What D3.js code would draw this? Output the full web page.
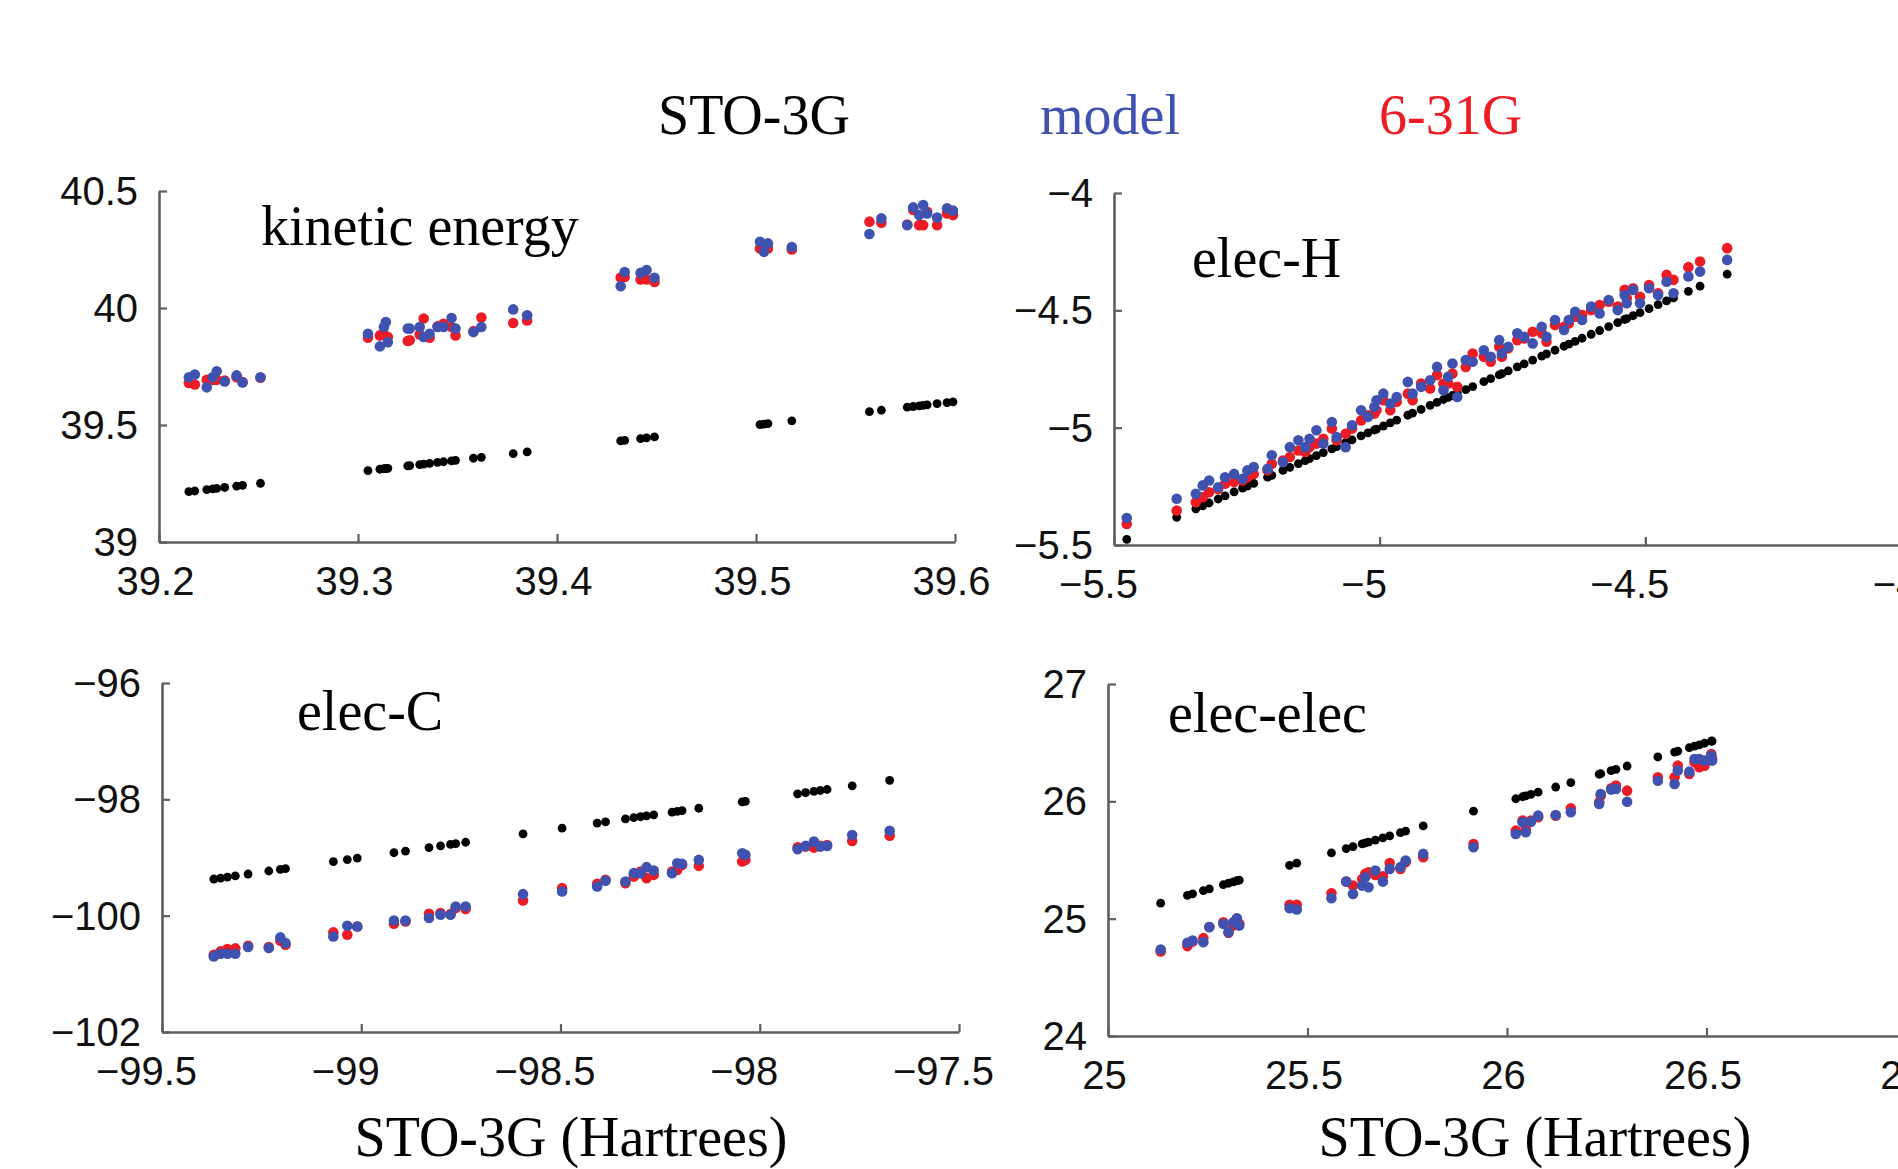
<!DOCTYPE html>
<html>
<head>
<meta charset="utf-8">
<script src="https://cdn.jsdelivr.net/npm/d3@7"></script>
<style>
  body { margin: 0; background: #fff; }
  .serif { font-family: "Liberation Serif", "Times New Roman", serif; }
  .tick text { font-family: "Liberation Sans", Arial, sans-serif; }
</style>
</head>
<body>
<svg id="fig"></svg>
<script>

// ---- kinetic energy ----
var keSTO = [39.215,39.218,39.224,39.227,39.229,39.233,39.239,39.242,39.251,
  39.305,39.311,39.313,39.314,39.315,39.325,39.326,39.331,39.333,39.336,39.340,39.343,39.347,39.349,39.358,39.362,39.378,39.385,
  39.432,39.434,39.442,39.445,39.449,
  39.502,39.504,39.506,39.518,
  39.557,39.563,39.576,39.579,39.582,39.584,39.586,39.591,39.596,39.599];
var keBlack = [39.215,39.218,39.224,39.227,39.229,39.233,39.239,39.242,39.251,
  39.305,39.311,39.313,39.314,39.315,39.325,39.326,39.331,39.333,39.336,39.340,39.343,39.347,39.349,39.358,39.362,39.378,39.385,
  39.432,39.434,39.442,39.445,39.449,
  39.502,39.504,39.506,39.518,
  39.557,39.563,39.576,39.579,39.582,39.584,39.586,39.591,39.596,39.599];
var keModel = [39.704,39.716,39.661,39.704,39.730,39.686,39.712,39.682,39.704,
  39.890,39.836,39.919,39.940,39.854,39.912,39.912,39.919,39.876,39.890,39.919,39.919,39.957,39.912,39.897,39.919,39.994,39.969,
  40.093,40.154,40.150,40.162,40.129,
  40.283,40.240,40.276,40.261,
  40.316,40.383,40.354,40.430,40.397,40.440,40.404,40.387,40.426,40.416];
var ke631 = [39.680,39.673,39.693,39.693,39.693,39.690,39.704,39.684,39.702,
  39.873,39.883,39.887,39.880,39.876,39.859,39.862,39.887,39.955,39.873,39.922,39.933,39.919,39.883,39.901,39.959,39.936,39.947,
  40.130,40.133,40.122,40.122,40.111,
  40.254,40.261,40.254,40.250,
  40.369,40.364,40.357,40.419,40.354,40.354,40.411,40.354,40.404,40.397];

// ---- elec-H ----
var ehSTO = [-5.476,-5.382,-5.346,-5.333,-5.321,-5.304,-5.291,-5.274,-5.258,-5.249,-5.237,-5.211,-5.203,-5.182,-5.169,-5.153,-5.140,-5.132,-5.119,-5.106,
  -5.090,-5.081,-5.064,-5.052,-5.035,-5.022,-5.010,-5.006,-4.993,-4.980,-4.968,-4.947,-4.938,-4.922,-4.905,-4.892,-4.880,-4.871,-4.863,-4.854,
  -4.838,-4.825,-4.804,-4.791,-4.775,-4.770,-4.758,-4.741,-4.728,-4.712,-4.695,-4.686,-4.670,-4.653,-4.644,-4.632,-4.619,-4.602,-4.586,-4.569,
  -4.552,-4.539,-4.535,-4.523,-4.510,-4.493,-4.476,-4.460,-4.447,-4.419,-4.397,-4.346];
var ehBlack = [-5.476,-5.382,-5.346,-5.333,-5.321,-5.304,-5.291,-5.274,-5.258,-5.249,-5.237,-5.211,-5.203,-5.182,-5.169,-5.153,-5.140,-5.132,-5.119,-5.106,
  -5.090,-5.081,-5.064,-5.052,-5.035,-5.022,-5.010,-5.006,-4.993,-4.980,-4.968,-4.947,-4.938,-4.922,-4.905,-4.892,-4.880,-4.871,-4.863,-4.854,
  -4.838,-4.825,-4.804,-4.791,-4.775,-4.770,-4.758,-4.741,-4.728,-4.712,-4.695,-4.686,-4.670,-4.653,-4.644,-4.632,-4.619,-4.602,-4.586,-4.569,
  -4.552,-4.539,-4.535,-4.523,-4.510,-4.493,-4.476,-4.460,-4.447,-4.419,-4.397,-4.346];
var ehModel = [-5.385,-5.303,-5.282,-5.246,-5.225,-5.254,-5.211,-5.197,-5.218,-5.182,-5.168,-5.175,-5.118,-5.147,-5.083,-5.054,-5.083,-5.047,-5.011,-5.068,
  -4.976,-5.040,-5.083,-4.990,-4.926,-4.954,-4.912,-4.883,-4.855,-4.897,-4.869,-4.805,-4.855,-4.826,-4.798,-4.741,-4.841,-4.783,-4.727,-4.869,
  -4.712,-4.719,-4.670,-4.698,-4.627,-4.684,-4.655,-4.598,-4.613,-4.641,-4.570,-4.613,-4.541,-4.584,-4.541,-4.506,-4.541,-4.484,-4.513,-4.456,
  -4.499,-4.435,-4.470,-4.413,-4.470,-4.406,-4.435,-4.378,-4.427,-4.356,-4.335,-4.285];
var eh631 = [-5.410,-5.353,-5.318,-5.296,-5.275,-5.261,-5.239,-5.232,-5.225,-5.211,-5.197,-5.182,-5.154,-5.140,-5.125,-5.097,-5.104,-5.083,-5.068,-5.047,
  -5.004,-5.054,-5.026,-5.004,-4.969,-4.947,-4.940,-4.926,-4.883,-4.926,-4.890,-4.855,-4.883,-4.812,-4.833,-4.776,-4.812,-4.812,-4.769,-4.826,
  -4.741,-4.684,-4.698,-4.719,-4.655,-4.698,-4.662,-4.627,-4.620,-4.591,-4.598,-4.634,-4.563,-4.570,-4.556,-4.527,-4.520,-4.499,-4.477,-4.463,
  -4.484,-4.413,-4.449,-4.406,-4.442,-4.392,-4.427,-4.349,-4.370,-4.316,-4.292,-4.235];

// ---- elec-C ----
var ecSTO = [-99.370,-99.353,-99.336,-99.316,-99.284,-99.232,-99.203,-99.190,-99.070,-99.035,-99.010,-98.918,-98.889,-98.830,-98.801,-98.776,-98.763,-98.738,-98.594,-98.496,
  -98.408,-98.387,-98.337,-98.316,-98.299,-98.284,-98.266,-98.220,-98.207,-98.195,-98.153,-98.044,-98.036,-97.905,-97.885,-97.864,-97.848,-97.831,-97.768,-97.674];
var ecBlack = [-99.370,-99.353,-99.336,-99.316,-99.284,-99.232,-99.203,-99.190,-99.070,-99.035,-99.010,-98.918,-98.889,-98.830,-98.801,-98.776,-98.763,-98.738,-98.594,-98.496,
  -98.408,-98.387,-98.337,-98.316,-98.299,-98.284,-98.266,-98.220,-98.207,-98.195,-98.153,-98.044,-98.036,-97.905,-97.885,-97.864,-97.848,-97.831,-97.768,-97.674];
var ecModel = [-100.700,-100.654,-100.654,-100.654,-100.539,-100.556,-100.374,-100.470,-100.357,-100.173,-100.185,-100.082,-100.082,-100.041,-99.985,-99.985,-99.842,-99.842,-99.630,-99.585,
  -99.499,-99.401,-99.413,-99.269,-99.269,-99.166,-99.225,-99.269,-99.098,-99.110,-99.041,-98.926,-98.955,-98.858,-98.801,-98.727,-98.813,-98.801,-98.612,-98.539];
var ec631 = [-100.671,-100.614,-100.573,-100.563,-100.516,-100.539,-100.431,-100.499,-100.288,-100.328,-100.185,-100.139,-100.099,-99.967,-99.955,-99.973,-99.870,-99.887,-99.739,-99.527,
  -99.453,-99.384,-99.441,-99.328,-99.242,-99.355,-99.298,-99.242,-99.213,-99.127,-99.144,-99.070,-99.041,-98.823,-98.813,-98.830,-98.801,-98.784,-98.715,-98.624];

// ---- elec-elec ----
var eeSTO = [25.132,25.199,25.212,25.239,25.254,25.289,25.302,25.314,25.323,25.329,25.455,25.473,25.560,25.597,25.614,25.637,25.645,25.653,25.670,25.689,
  25.706,25.733,25.746,25.790,25.916,26.022,26.039,26.047,26.060,26.078,26.122,26.160,26.231,26.235,26.261,26.273,26.301,26.378,26.420,26.428,
  26.457,26.470,26.482,26.495,26.512,26.514];
var eeBlack = [25.132,25.199,25.212,25.239,25.254,25.289,25.302,25.314,25.323,25.329,25.455,25.473,25.560,25.597,25.614,25.637,25.645,25.653,25.670,25.689,
  25.706,25.733,25.746,25.790,25.916,26.022,26.039,26.047,26.060,26.078,26.122,26.160,26.231,26.235,26.261,26.273,26.301,26.378,26.420,26.428,
  26.457,26.470,26.482,26.495,26.512,26.514];
var eeModel = [24.737,24.794,24.814,24.800,24.928,24.956,24.885,24.970,25.004,24.941,25.089,25.078,25.175,25.316,25.211,25.282,25.353,25.268,25.410,25.316,
  25.424,25.439,25.495,25.552,25.609,25.722,25.822,25.737,25.827,25.878,25.884,25.907,25.978,26.063,26.100,26.106,25.997,26.176,26.148,26.262,
  26.253,26.361,26.361,26.347,26.389,26.347];
var ee631 = [24.720,24.766,24.805,24.834,24.928,24.970,24.879,24.941,24.984,24.956,25.118,25.118,25.217,25.316,25.282,25.339,25.382,25.396,25.373,25.362,
  25.475,25.424,25.481,25.524,25.637,25.750,25.836,25.765,25.836,25.865,25.878,25.941,25.992,26.049,26.112,26.134,26.091,26.205,26.205,26.304,
  26.233,26.333,26.290,26.304,26.404,26.361];

// ---- ticks ----
var keXTicks = [39.2, 39.3, 39.4, 39.5, 39.6];
var keYTicks = [39, 39.5, 40, 40.5];
var ehXTicks = [-5.5, -5, -4.5, -4];
var ehYTicks = [-5.5, -5, -4.5, -4];
var ecXTicks = [-99.5, -99, -98.5, -98, -97.5];
var ecYTicks = [-102, -100, -98, -96];
var eeXTicks = [25, 25.5, 26, 26.5, 27];
var eeYTicks = [24, 25, 26, 27];

var legendNames = ["STO-3G", "model", "6-31G"];
var xTitle = "STO-3G (Hartrees)";

var W = 1898, H = 1169;
var colBlack = "#000000", colBlue = "#4052b0", colRed = "#ec1c24";

var svg = d3.select("#fig")
  .attr("width", W)
  .attr("height", H);

var panels = [
  {name: "kinetic energy", sto: keSTO, black: keBlack, model: keModel, r631: ke631,
   xd: [39.2, 39.6], yd: [39, 40.5], xt: keXTicks, yt: keYTicks,
   left: 159, top: 191, w: 796, h: 351, lx: 261, ly: 245, titleX: null},
  {name: "elec-H", sto: ehSTO, black: ehBlack, model: ehModel, r631: eh631,
   xd: [-5.5, -4], yd: [-5.5, -4], xt: ehXTicks, yt: ehYTicks,
   left: 1114, top: 193, w: 797, h: 352, lx: 1192, ly: 277, titleX: null},
  {name: "elec-C", sto: ecSTO, black: ecBlack, model: ecModel, r631: ec631,
   xd: [-99.5, -97.5], yd: [-102, -96], xt: ecXTicks, yt: ecYTicks,
   left: 162, top: 683, w: 797, h: 349, lx: 297, ly: 730, titleX: 571},
  {name: "elec-elec", sto: eeSTO, black: eeBlack, model: eeModel, r631: ee631,
   xd: [25, 27], yd: [24, 27], xt: eeXTicks, yt: eeYTicks,
   left: 1108, top: 684, w: 798, h: 352, lx: 1168, ly: 732, titleX: 1535}
];

function fmt(d) {
  return String(d).replace("-", "\u2212");
}

function drawPanel(p) {
  var x = d3.scaleLinear().domain(p.xd).range([p.left, p.left + p.w]);
  var y = d3.scaleLinear().domain(p.yd).range([p.top + p.h, p.top]);
  var g = svg.append("g");

  var xAxis = g.append("g")
    .attr("transform", "translate(0," + (p.top + p.h) + ")")
    .call(d3.axisBottom(x).tickValues(p.xt).tickFormat(fmt)
      .tickSizeInner(-8).tickSizeOuter(0).tickPadding(25));
  var yAxis = g.append("g")
    .attr("transform", "translate(" + p.left + ",0)")
    .call(d3.axisLeft(y).tickValues(p.yt).tickFormat(fmt)
      .tickSizeInner(-8).tickSizeOuter(0).tickPadding(21));

  [xAxis, yAxis].forEach(function(a) {
    a.attr("font-size", null).attr("font-family", null);
    a.select(".domain").attr("stroke", "#5e5e5e").attr("stroke-width", 2.6);
    a.selectAll(".tick line").attr("stroke", "#5e5e5e").attr("stroke-width", 2.2);
    a.selectAll(".tick text").attr("fill", "#111").style("font-size", "40px");
  });
  // MATLAB-ish offset of the tick labels
  xAxis.selectAll(".tick text").attr("dx", function(d) { return d < 0 ? -16 : -4; });
  yAxis.selectAll(".tick text").attr("dy", "0.34em");

  var pts = p.sto.map(function(v, i) {
    return {x: v, black: p.black[i], model: p.model[i], r631: p.r631[i]};
  });

  g.selectAll(null).data(pts).enter().append("circle")
    .attr("cx", function(d) { return x(d.x); })
    .attr("cy", function(d) { return y(d.black); })
    .attr("r", 4.4)
    .attr("fill", colBlack);
  g.selectAll(null).data(pts).enter().append("circle")
    .attr("cx", function(d) { return x(d.x); })
    .attr("cy", function(d) { return y(d.r631); })
    .attr("r", 5.3)
    .attr("fill", colRed);
  g.selectAll(null).data(pts).enter().append("circle")
    .attr("cx", function(d) { return x(d.x); })
    .attr("cy", function(d) { return y(d.model); })
    .attr("r", 5.3)
    .attr("fill", colBlue);

  g.append("text")
    .attr("class", "serif")
    .attr("x", p.lx)
    .attr("y", p.ly)
    .style("font-size", "56px")
    .text(p.name);

  if (p.titleX !== null) {
    g.append("text")
      .attr("class", "serif")
      .attr("x", p.titleX)
      .attr("y", 1156)
      .attr("text-anchor", "middle")
      .style("font-size", "56px")
      .text(xTitle);
  }
}

panels.forEach(drawPanel);

// legend
var legendX = [658, 1040, 1379];
var legendCol = [colBlack, colBlue, colRed];
svg.selectAll(".legend")
  .data(legendNames)
  .enter().append("text")
  .attr("class", "serif legend")
  .attr("x", function(d, i) { return legendX[i]; })
  .attr("y", 134)
  .attr("fill", function(d, i) { return legendCol[i]; })
  .style("font-size", "56px")
  .text(function(d) { return d; });

</script>
</body>
</html>
